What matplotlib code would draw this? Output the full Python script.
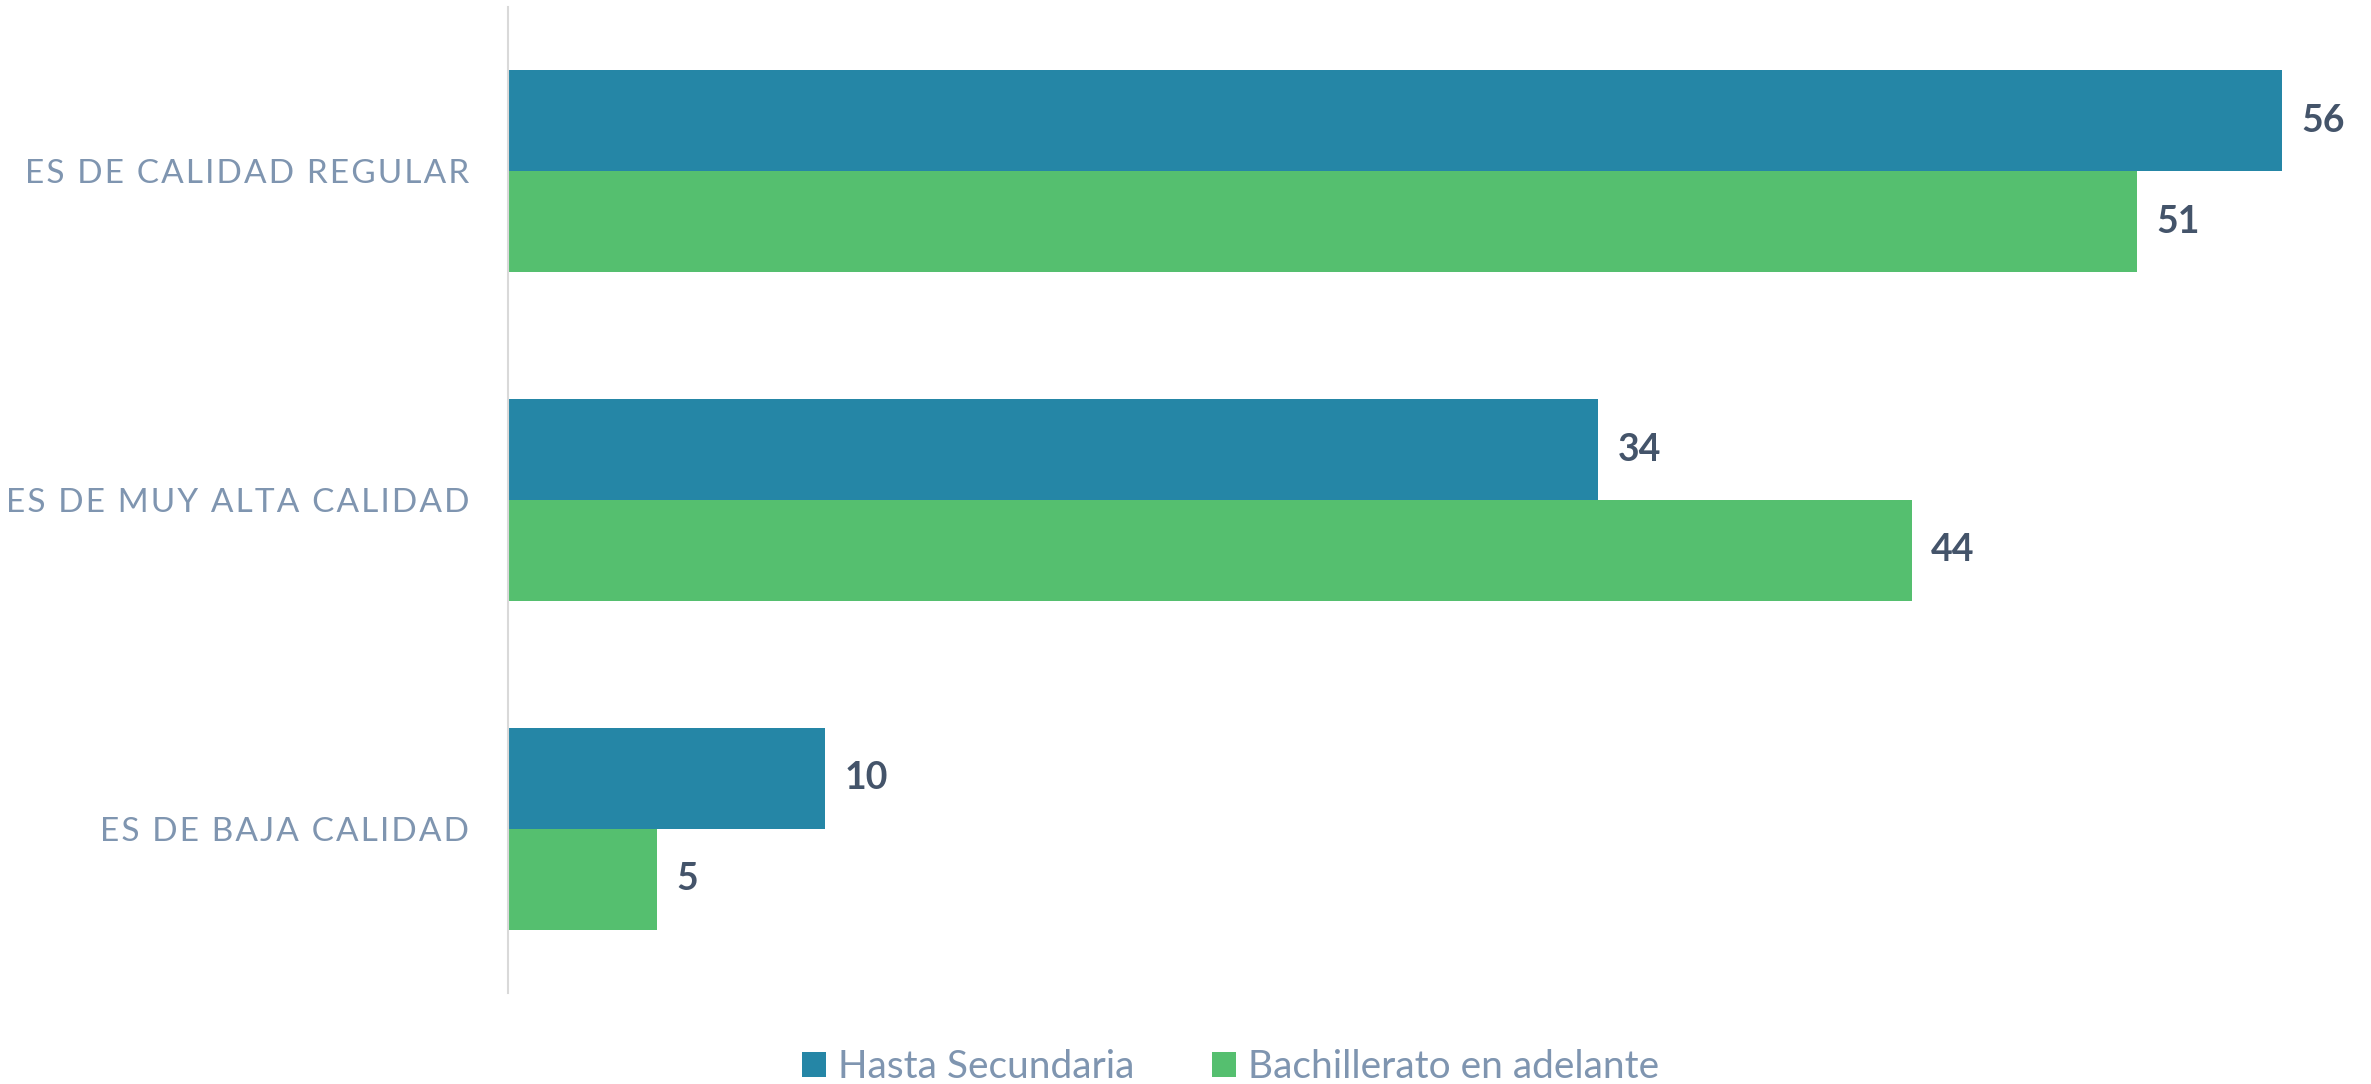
import matplotlib.pyplot as plt
import numpy as np

plt.rcParams['font.family'] = ['Lato', 'DejaVu Sans']

categories = ['ES DE CALIDAD REGULAR', 'ES DE MUY ALTA CALIDAD', 'ES DE BAJA CALIDAD']
hasta_secundaria = [56.0, 34.4, 10.0]
bachillerato = [51.4, 44.3, 4.7]
series_names = ['Hasta Secundaria', 'Bachillerato en adelante']

BLUE = '#2586A6'
GREEN = '#55BF6F'
TICK_COLOR = '#7F95B0'
LABEL_COLOR = '#44546A'

def spaced(s):
    # fake letter spacing with hair spaces
    return '\u200a'.join(s)

fig = plt.figure(figsize=(23.71, 10.84), dpi=100)
ax = fig.add_axes([508 / 2371, 91 / 1084, 1 - 508 / 2371, 986 / 1084])

y = np.arange(len(categories))
h = 0.307
b1 = ax.barh(y - h / 2, hasta_secundaria, height=h, color=BLUE, label=series_names[0])
b2 = ax.barh(y + h / 2, bachillerato, height=h, color=GREEN, label=series_names[1])

for bars in (b1, b2):
    ax.bar_label(bars, fmt='%.0f', padding=14, fontsize=27, fontweight='bold', color=LABEL_COLOR)

ax.set_ylim(2.5, -0.5)
ax.set_xlim(0, 58.8)
ax.set_yticks(y)
ax.set_yticklabels([spaced(c) for c in categories], fontsize=24, color=TICK_COLOR)
ax.tick_params(axis='y', length=0, pad=28)
ax.set_xticks([])

for s in ['top', 'right', 'bottom']:
    ax.spines[s].set_visible(False)
ax.spines['left'].set_color('#D9D9D9')
ax.spines['left'].set_linewidth(1.5)

leg = fig.legend(handles=[b1, b2], loc='center', bbox_to_anchor=(0.519, 0.0155),
                 ncol=2, frameon=False, fontsize=28, handlelength=0.62, handleheight=0.62,
                 handletextpad=0.3, columnspacing=2.0)
for t in leg.get_texts():
    t.set_color(TICK_COLOR)

fig.savefig('out.png', dpi=100)
